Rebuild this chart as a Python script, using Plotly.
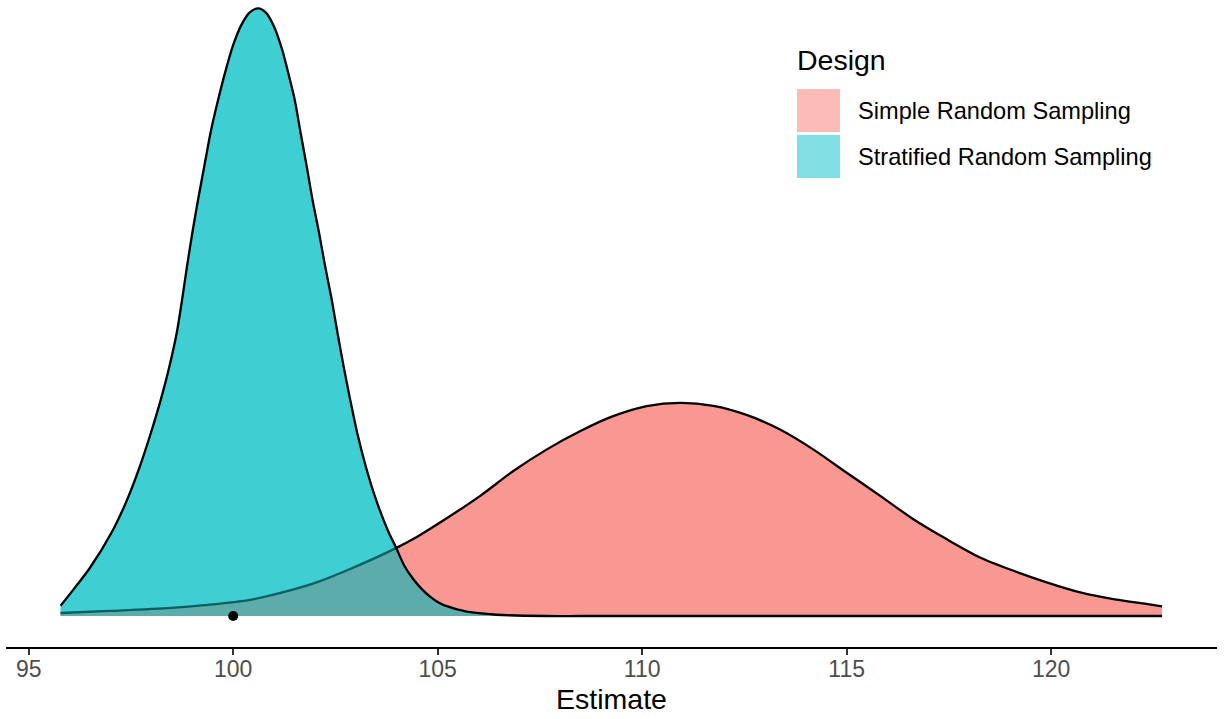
import plotly.graph_objects as go

# ---- data (Estimate vs density) ----
srs_x = [95.78, 96.97, 98.48, 99.49, 100.41, 101.20, 102.04, 102.86, 103.98, 104.40,
         105.22, 106.04, 106.85, 107.67, 108.49, 109.29, 110.11, 110.93, 111.74,
         112.55, 113.37, 114.18, 115.00, 115.82, 116.63, 117.44, 118.26, 119.08,
         119.89, 120.71, 121.52, 122.33, 122.71]
srs_y = [0.0012, 0.0020, 0.0032, 0.0046, 0.0064, 0.0094, 0.0134, 0.0187, 0.0270, 0.0306,
         0.0389, 0.0478, 0.0577, 0.0663, 0.0736, 0.0795, 0.0835, 0.0848, 0.0836,
         0.0800, 0.0742, 0.0663, 0.0570, 0.0478, 0.0385, 0.0306, 0.0233, 0.0180,
         0.0134, 0.0094, 0.0067, 0.0048, 0.0038]

str_x = [95.78, 96.01, 96.49, 97.03, 97.41, 97.72, 97.99, 98.23, 98.44, 98.62,
         98.75, 98.87, 99.00, 99.14, 99.29, 99.45, 99.63, 99.80, 100.00, 100.20,
         100.40, 100.61, 100.80, 101.00, 101.20, 101.31, 101.50, 101.65, 101.80,
         101.94, 102.10, 102.25, 102.41, 102.55, 102.70, 102.86, 103.03, 103.24,
         103.49, 103.80, 103.98, 104.18, 104.40, 104.60, 104.82, 105.02, 105.22,
         105.71, 106.44, 107.67, 108.5, 112.0, 116.0, 120.0, 122.71]
str_y = [0.0041, 0.0088, 0.0190, 0.0333, 0.0464, 0.0596, 0.0730, 0.0861, 0.0993, 0.1127,
         0.1258, 0.1390, 0.1524, 0.1655, 0.1787, 0.1926, 0.2053, 0.2161, 0.2272, 0.2352,
         0.2401, 0.2418, 0.2401, 0.2345, 0.2252, 0.2184, 0.2057, 0.1921, 0.1787,
         0.1655, 0.1524, 0.1390, 0.1258, 0.1127, 0.0993, 0.0861, 0.0730, 0.0596,
         0.0464, 0.0333, 0.0273, 0.0201, 0.0147, 0.0109, 0.0076, 0.0054, 0.0039,
         0.0017, 0.0005, 0.0000, 0.0, 0.0, 0.0, 0.0, 0.0]

true_value = [100]
designs = ["Simple Random Sampling", "Stratified Random Sampling"]
tick_vals = [95, 100, 105, 110, 115, 120]

RED = "rgba(248,118,109,0.5)"
CYAN = "rgba(0,191,196,0.5)"
FONT = "Liberation Sans, Arial, sans-serif"

fig = go.Figure()
# two layers, as in the original (fill-only layer, then fill+outline layer)
for with_line in (False, True):
    for xs, ys, col in ((srs_x, srs_y, RED), (str_x, str_y, CYAN)):
        fig.add_trace(go.Scatter(
            x=xs, y=ys, mode="lines", fill="tozeroy", fillcolor=col,
            line=dict(color="black" if with_line else "rgba(0,0,0,0)",
                      width=2.3 if with_line else 0, shape="spline", smoothing=0.8),
            showlegend=False, hoverinfo="skip"))

fig.add_trace(go.Scatter(x=true_value, y=[0] * len(true_value), mode="markers",
                         marker=dict(color="black", size=10), showlegend=False,
                         cliponaxis=False))

# plot area in pixels: x 6..1217, y 4..647
W, H = 1225, 719
L, R, T, B = 6, 8, 4, 72
pw, ph = W - L - R, H - T - B


def px(x):
    return (x - L) / pw


def py(y):
    return (H - B - y) / ph


shapes = []
annotations = [dict(x=px(795), y=py(60), xref="paper", yref="paper", text="Design",
                    showarrow=False, xanchor="left", yanchor="middle",
                    font=dict(size=28.5, color="black", family=FONT))]
key_cols = ["#FCBBB6", "#80DFE2"]
for i, (name, col) in enumerate(zip(designs, key_cols)):
    y0 = 89 + i * 46
    shapes.append(dict(type="rect", xref="paper", yref="paper",
                       x0=px(797), x1=px(840), y0=py(y0 + 43), y1=py(y0),
                       fillcolor=col, line=dict(width=0)))
    annotations.append(dict(x=px(856), y=py(y0 + 21.5), xref="paper", yref="paper",
                            text=name, showarrow=False, xanchor="left", yanchor="middle",
                            font=dict(size=23.6, color="black", family=FONT)))

ppu = (616 - 8.3) / 0.2418
ymin = -31 / ppu
ymax = ymin + ph / ppu
xppu = 40.9
xmin = 95 - (28.7 - L) / xppu
xmax = xmin + pw / xppu

fig.update_layout(
    width=W, height=H, margin=dict(l=L, r=R, t=T, b=B),
    plot_bgcolor="white", paper_bgcolor="white",
    font=dict(family=FONT),
    shapes=shapes, annotations=annotations,
    xaxis=dict(range=[xmin, xmax], tickvals=tick_vals, showgrid=False, zeroline=False,
               showline=True, linecolor="black", linewidth=2,
               ticks="outside", ticklen=6, tickwidth=2, tickcolor="#333333",
               ticklabelstandoff=-6,
               tickfont=dict(size=23, color="#4D4D4D", family=FONT),
               title=dict(text="Estimate", font=dict(size=28.5, color="black", family=FONT),
                          standoff=8)),
    yaxis=dict(range=[ymin, ymax], visible=False, showgrid=False, zeroline=False),
)

fig.write_html("out.html", config={"displayModeBar": False},
               post_script="document.body.style.margin='0';")
